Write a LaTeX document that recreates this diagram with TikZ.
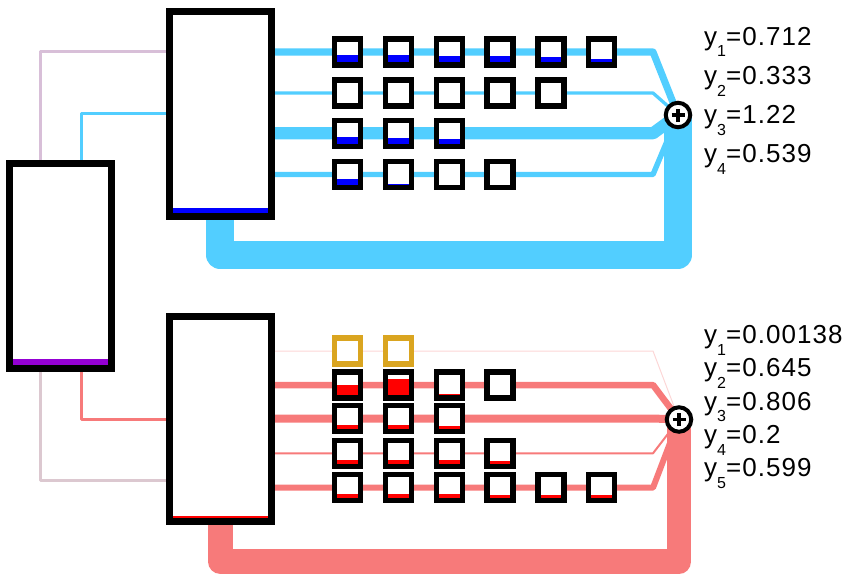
\documentclass[tikz,border=0pt]{standalone}
\usepackage{fontspec}
\setmainfont{Liberation Sans}
\newfontfamily\lblfont[LetterSpace=4]{Liberation Sans}
\usetikzlibrary{backgrounds}

\definecolor{skyb}{RGB}{82,206,255}
\definecolor{salm}{RGB}{247,122,122}
\definecolor{salmfaint}{RGB}{252,214,214}
\definecolor{lav}{RGB}{216,191,216}
\definecolor{greypink}{RGB}{220,200,208}
\definecolor{gold}{RGB}{218,165,32}
\definecolor{purp}{RGB}{148,0,211}

\newcommand\lblsub[1]{\raisebox{-11.7pt}{\fontsize{16}{16}\selectfont #1}}

\begin{document}
\begin{tikzpicture}[x=1pt,y=-1pt,
  bigbox/.style 2 args={draw=black, line width=7.3pt, fill=white,
    minimum width=102pt, minimum height=205pt, inner sep=0pt, outer sep=0pt,
    path picture={\fill[#1] ([yshift=-2pt]path picture bounding box.south west)
      rectangle ([yshift=#2]path picture bounding box.south east);}},
  cell/.style n args={3}{draw=#3, line width=5.5pt, fill=white,
    minimum size=26pt, inner sep=0pt, outer sep=0pt,
    path picture={\fill[#2] ([yshift=-2pt]path picture bounding box.south west)
      rectangle ([yshift={2.75pt+#1*20.5pt}]path picture bounding box.south east);}},
  sumnode/.style={circle, draw=black, line width=4pt, fill=white,
    minimum size=24.5pt, inner sep=0pt,
    path picture={\draw[line width=3.3pt]
      ([xshift=-6.5pt]path picture bounding box.center) -- ([xshift=6.5pt]path picture bounding box.center)
      ([yshift=-6.5pt]path picture bounding box.center) -- ([yshift=6.5pt]path picture bounding box.center);}},
  lbl/.style={anchor=base west, inner sep=0pt,
    font=\lblfont\fontsize{26}{26}\selectfont},
  wire/.style={line join=round},
]
\useasboundingbox (0,0) rectangle (856,584);

% main blocks
\node[bigbox={purp}{9pt}] (lbox) at (60.8,265.8) {};
\node[bigbox={blue}{8.3pt}] (ubox) at (220.3,113.7) {};
\node[bigbox={red}{5.3pt}] (dbox) at (220.3,419.2) {};

% summing junctions
\node[sumnode] (usum) at (678,115) {};
\node[sumnode] (dsum) at (679,419.5) {};

% upper cells
\foreach \f [count=\i] in {.36,.36,.32,.29,.24,.16}
  \node[cell={\f}{blue}{black}] (u1c\i) at ({347.7+50.8*(\i-1)},52) {};
\foreach \f [count=\i] in {.03,.03,.03,.03,0}
  \node[cell={\f}{blue}{black}] (u2c\i) at ({347.7+50.8*(\i-1)},93) {};
\foreach \f [count=\i] in {.32,.27,.21}
  \node[cell={\f}{blue}{black}] (u3c\i) at ({347.7+50.8*(\i-1)},133.3) {};
\foreach \f [count=\i] in {.27,.02,0,0}
  \node[cell={\f}{blue}{black}] (u4c\i) at ({347.7+50.8*(\i-1)},174.5) {};

% lower cells
\foreach \f [count=\i] in {0,0}
  \node[cell={\f}{white}{gold}] (d1c\i) at ({347.7+50.8*(\i-1)},351) {};
\foreach \f [count=\i] in {.5,.8,.05,.03}
  \node[cell={\f}{red}{black}] (d2c\i) at ({347.7+50.8*(\i-1)},385) {};
\foreach \f [count=\i] in {.2,.17,.12}
  \node[cell={\f}{red}{black}] (d3c\i) at ({347.7+50.8*(\i-1)},418.5) {};
\foreach \f [count=\i] in {.18,.18,.18,.12}
  \node[cell={\f}{red}{black}] (d4c\i) at ({347.7+50.8*(\i-1)},453.3) {};
\foreach \f [count=\i] in {.2,.18,.18,.15,.12,.12}
  \node[cell={\f}{red}{black}] (d5c\i) at ({347.7+50.8*(\i-1)},487.7) {};

% bends before the junctions and loop corners
\coordinate (ur1) at (653,52);
\coordinate (ur2) at (653,93);
\coordinate (ur3) at (653,133.3);
\coordinate (ur4) at (653,174.5);
\coordinate (uturn) at (678,255);
\coordinate (dr1) at (653,351);
\coordinate (dr2) at (653,385);
\coordinate (dr3) at (653,418.5);
\coordinate (dr4) at (653,453.3);
\coordinate (dr5) at (653,487.7);
\coordinate (dturn) at (679,561.7);

\begin{scope}[on background layer]
  % inputs from the left block
  \draw[wire, lav, line width=3pt] ([xshift=-20pt]lbox.north) |- ([yshift=62pt]ubox.west);
  \draw[wire, skyb, line width=3pt] ([xshift=21pt]lbox.north) |- (ubox.west);
  \draw[wire, greypink, line width=3pt] ([xshift=-20pt]lbox.south) |- ([yshift=-61pt]dbox.west);
  \draw[wire, salm, line width=3pt] ([xshift=21pt]lbox.south) |- (dbox.west);

  % feedback loops
  \draw[wire, skyb, line width=28pt] (ubox.south) |- (uturn) -- (usum.center);
  \draw[wire, salm, line width=24.5pt] (dbox.south) |- (dturn) -- (dsum.center);

  % upper branches
  \draw[wire, skyb, line width=7.1pt] (ubox.east |- ur1) -- (ur1) -- (usum.center);
  \draw[wire, skyb, line width=3.3pt] (ubox.east |- ur2) -- (ur2) -- (usum.center);
  \draw[wire, skyb, line width=12.2pt] (ubox.east |- ur3) -- (ur3) -- (usum.center);
  \draw[wire, skyb, line width=5.4pt] (ubox.east |- ur4) -- (ur4) -- (usum.center);

  % lower branches
  \draw[wire, salmfaint, line width=1pt] (dbox.east |- dr1) -- (dr1) -- (dsum.center);
  \draw[wire, salm, line width=6.5pt] (dbox.east |- dr2) -- (dr2) -- (dsum.center);
  \draw[wire, salm, line width=8pt] (dbox.east |- dr3) -- (dr3) -- (dsum.center);
  \draw[wire, salm, line width=2pt] (dbox.east |- dr4) -- (dr4) -- (dsum.center);
  \draw[wire, salm, line width=6pt] (dbox.east |- dr5) -- (dr5) -- (dsum.center);
\end{scope}

% outputs
\node[lbl] (uy1) at (704,45) {y\lblsub{1}=0.712};
\node[lbl] (uy2) at (704,84.3) {y\lblsub{2}=0.333};
\node[lbl] (uy3) at (704,123.6) {y\lblsub{3}=1.22};
\node[lbl] (uy4) at (704,162.9) {y\lblsub{4}=0.539};

\node[lbl] (dy1) at (704,343.3) {y\lblsub{1}=0.00138};
\node[lbl] (dy2) at (704,376.6) {y\lblsub{2}=0.645};
\node[lbl] (dy3) at (704,410) {y\lblsub{3}=0.806};
\node[lbl] (dy4) at (704,443.3) {y\lblsub{4}=0.2};
\node[lbl] (dy5) at (704,476.7) {y\lblsub{5}=0.599};
\end{tikzpicture}
\end{document}
